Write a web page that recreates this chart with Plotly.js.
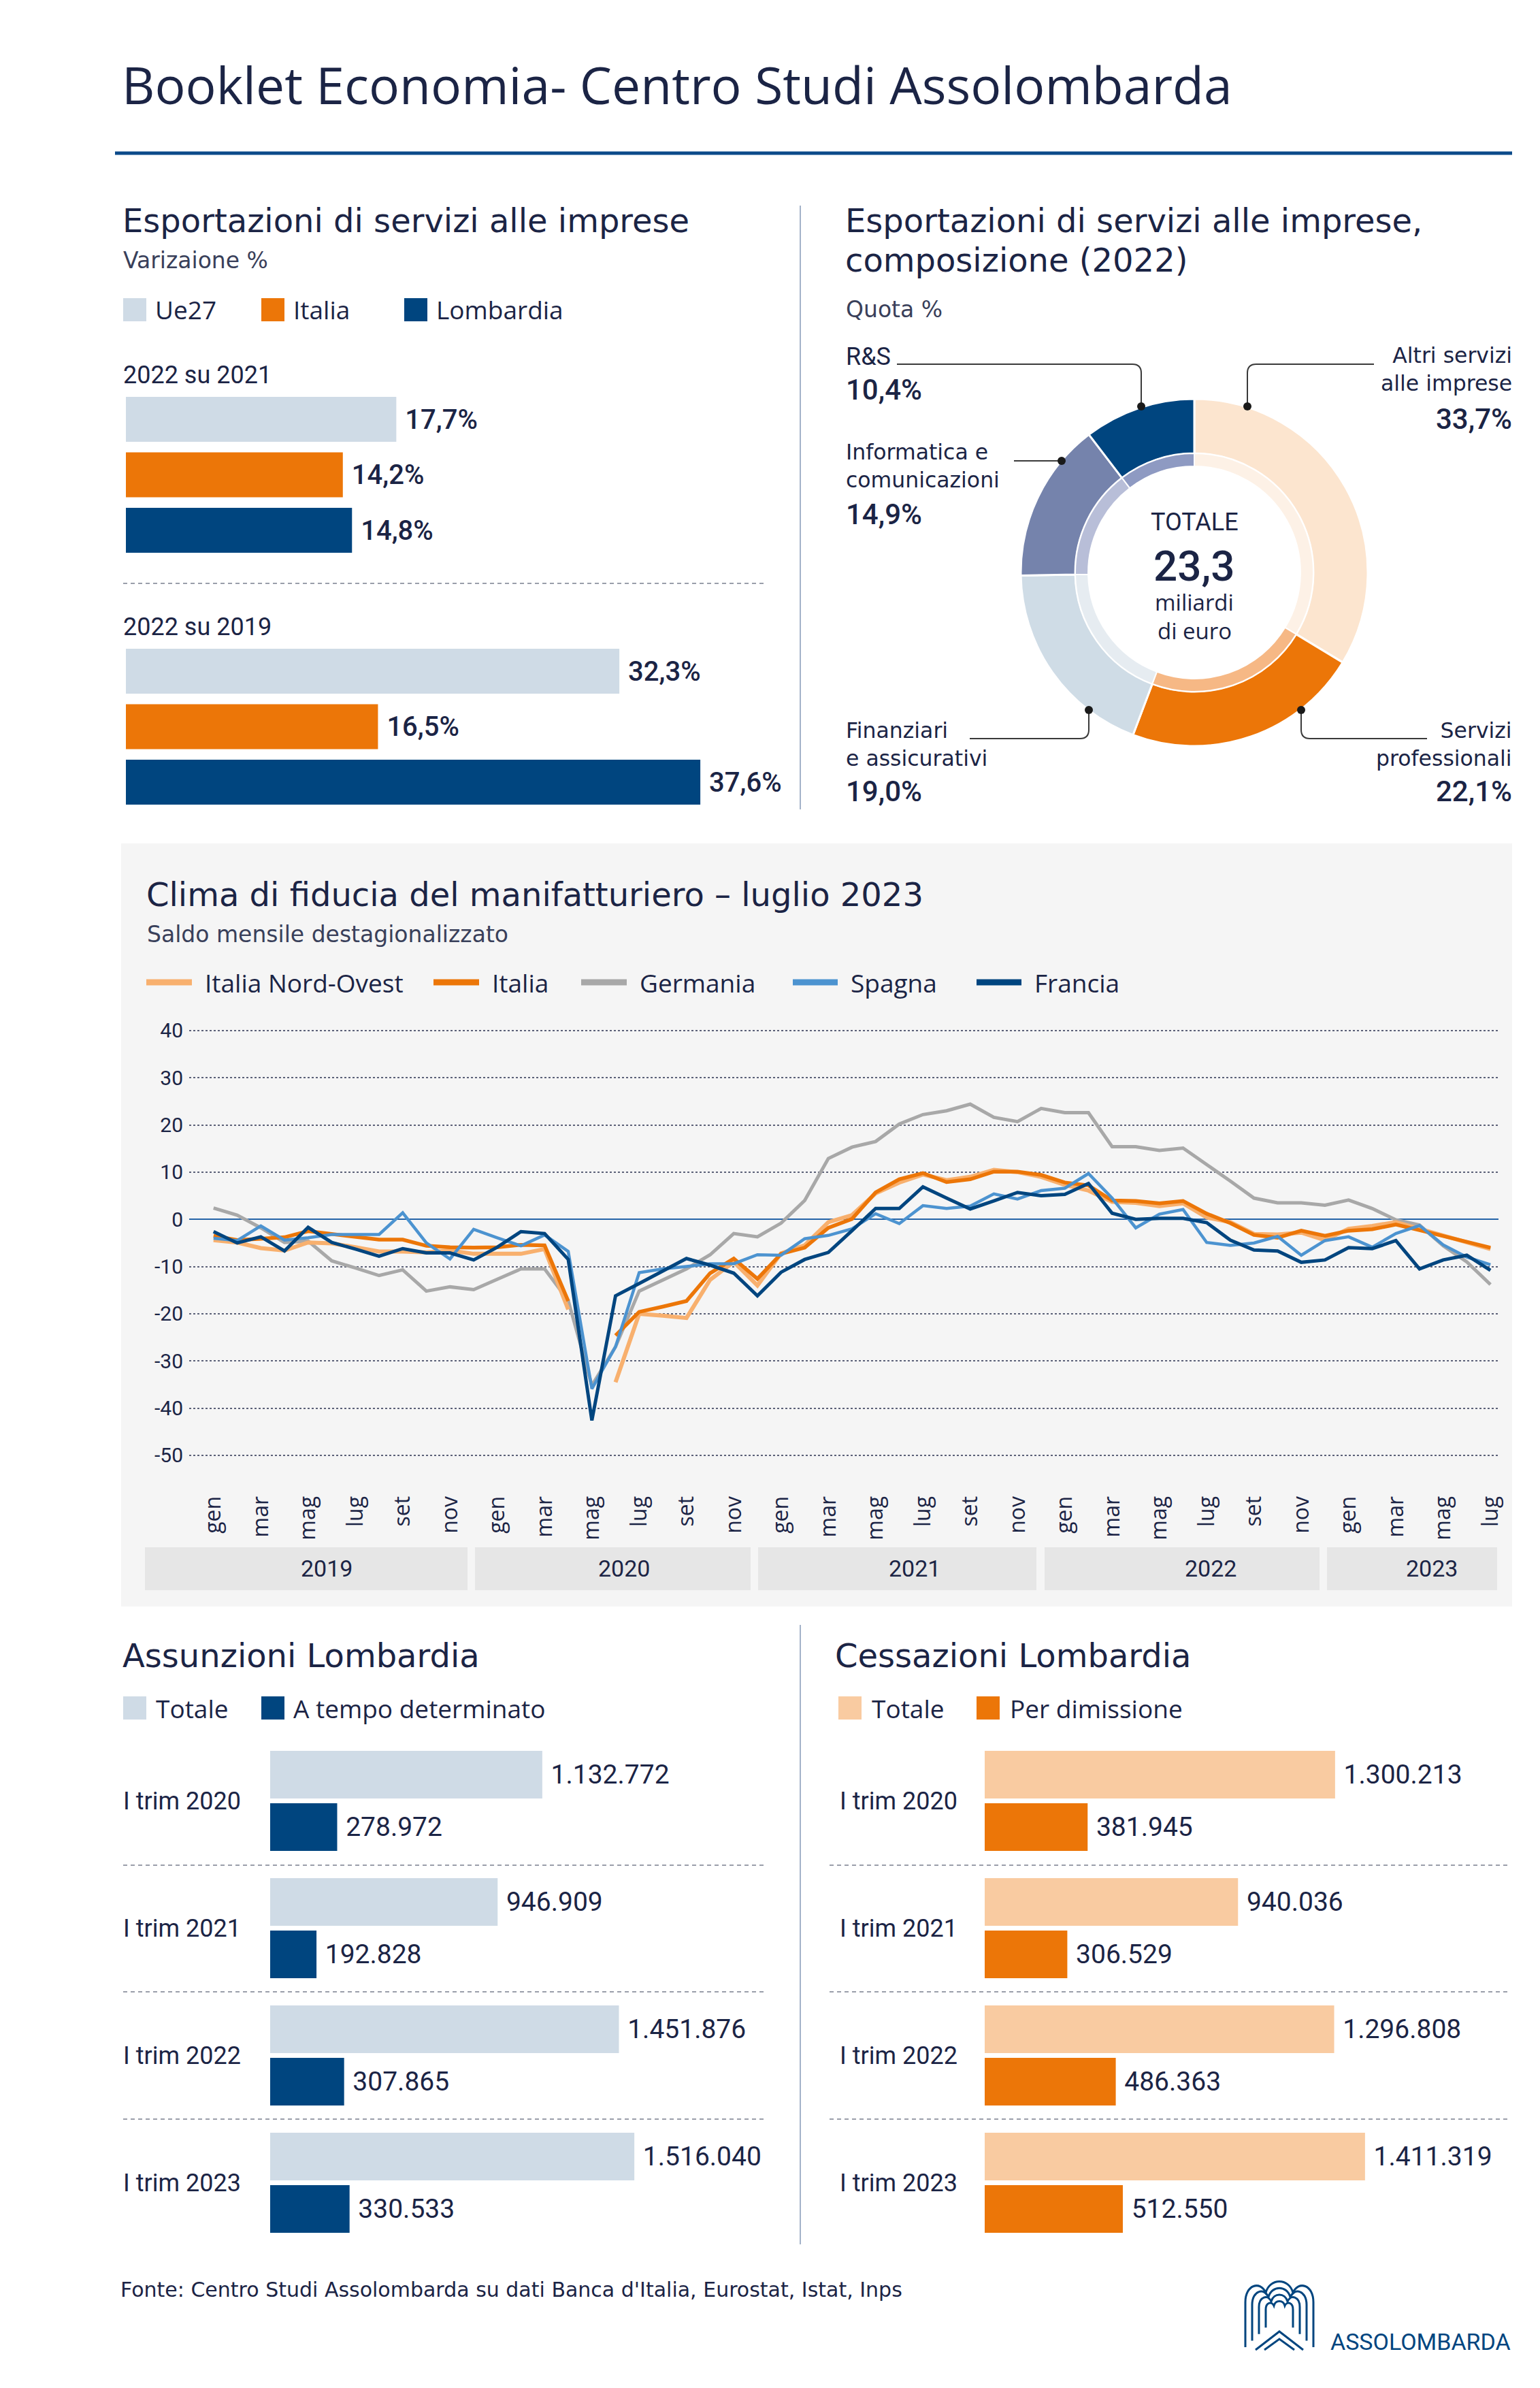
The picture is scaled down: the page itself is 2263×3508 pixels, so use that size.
<!DOCTYPE html>
<html><head><meta charset="utf-8">
<script src="https://cdn.plot.ly/plotly-3.0.1.min.js"></script>
<style>html,body{margin:0;padding:0;background:#fff}#chart{width:2263px;height:3508px}</style>
</head><body><div id="chart"></div>
<script>
// ================= DATA =================
const exportSeries = ['Ue27', 'Italia', 'Lombardia'];
const exportPeriods = ['2022 su 2021', '2022 su 2019'];
const exportUe27 = [17.7, 32.3];
const exportItalia = [14.2, 16.5];
const exportLombardia = [14.8, 37.6];

const compLabels = ['Altri servizi alle imprese', 'Servizi professionali', 'Finanziari e assicurativi', 'Informatica e comunicazioni', 'R&S'];
const compLabelLines = [['Altri servizi', 'alle imprese'], ['Servizi', 'professionali'], ['Finanziari', 'e assicurativi'], ['Informatica e', 'comunicazioni'], ['R&S']];
const compShares = [33.7, 22.1, 19.0, 14.9, 10.4];
const compTotal = 23.3;

const monthNames = ['gen','feb','mar','apr','mag','giu','lug','ago','set','ott','nov','dic'];
const years = [2019, 2020, 2021, 2022, 2023];
const lineSeriesNames = ['Italia Nord-Ovest', 'Italia', 'Germania', 'Spagna', 'Francia'];
const italiaNO = [-4.4,-4.9,-6.1,-6.6,-4.9,-5.1,-5.9,-6.8,-6.8,-7.0,-6.6,-7.3,-7.3,-7.3,-6.3,-19.1,null,-34.5,-20.0,-20.4,-20.9,-12.8,-9.0,-14.0,-7.2,-5.5,-0.6,0.9,5.5,7.8,9.5,8.3,9.0,10.5,10.0,9.0,7.3,6.1,3.7,3.5,2.8,3.4,0.4,-0.6,-3.1,-3.2,-2.8,-4.4,-2.0,-1.4,-0.6,-2.0,-3.5,-4.9,-6.3];
const italia = [-3.5,-4.4,-4.1,-3.8,-2.5,-3.1,-3.7,-4.3,-4.3,-5.6,-5.9,-6.0,-5.9,-5.4,-5.5,-17.3,null,-24.6,-19.6,-18.5,-17.3,-11.4,-8.3,-12.6,-7.3,-6.0,-1.8,0.1,5.7,8.5,9.8,7.9,8.5,10.1,10.1,9.4,7.8,7.2,4.0,3.9,3.4,3.9,1.2,-0.8,-3.3,-3.9,-2.4,-3.5,-2.4,-2.1,-1.1,-2.3,-3.5,-4.8,-6.0];
const germania = [2.4,0.9,-1.8,-4.9,-4.6,-8.8,-10.3,-11.9,-10.7,-15.2,-14.3,-14.9,-12.7,-10.5,-10.5,-17.2,-35.2,-27.0,-15.2,-12.8,-10.5,-7.5,-3.0,-3.7,-0.8,4.0,12.9,15.3,16.5,20.2,22.2,23.0,24.4,21.6,20.7,23.5,22.6,22.6,15.4,15.4,14.6,15.1,11.7,8.1,4.5,3.5,3.5,3.0,4.1,2.3,-0.1,-1.2,-5.6,-9.0,-13.8];
const spagna = [-4.0,-4.5,-1.4,-4.4,-3.9,-3.2,-3.2,-3.2,1.4,-5.0,-8.4,-2.1,-3.9,-5.6,-3.3,-6.8,-35.9,-27.0,-11.3,-10.5,-10.0,-9.4,-9.4,-7.5,-7.6,-4.1,-3.4,-2.0,1.2,-0.9,2.9,2.3,2.8,5.4,4.3,6.1,6.6,9.7,4.5,-1.8,1.1,2.1,-4.9,-5.5,-5.0,-3.6,-7.6,-4.5,-3.7,-5.9,-3.0,-1.3,-5.4,-8.0,-9.6];
const francia = [-2.6,-5.0,-3.7,-6.7,-1.7,-4.9,-6.3,-7.8,-6.2,-7.1,-7.1,-8.6,-5.9,-2.6,-3.0,-8.5,-42.6,-16.2,-13.6,-10.9,-8.3,-9.7,-11.4,-16.2,-11.2,-8.5,-7.0,-2.4,2.3,2.3,6.9,4.5,2.2,3.9,5.7,5.0,5.3,7.6,1.3,0.0,0.2,0.2,-0.7,-4.4,-6.5,-6.7,-9.1,-8.6,-6.0,-6.2,-4.5,-10.5,-8.6,-7.6,-10.8];
const yTicks = [40, 30, 20, 10, 0, -10, -20, -30, -40, -50];

const trimestri = ['I trim 2020', 'I trim 2021', 'I trim 2022', 'I trim 2023'];
const assunzioniTotale = [1132772, 946909, 1451876, 1516040];
const assunzioniDeterminato = [278972, 192828, 307865, 330533];
const cessazioniTotale = [1300213, 940036, 1296808, 1411319];
const cessazioniDimissione = [381945, 306529, 486363, 512550];

// ================= HELPERS =================
const W = 2263, H = 3508;
const px = x => x / W, py = y => 1 - y / H;
const NAVY = '#1b2445';
const FO = 'Open Sans, Lato, sans-serif';
const FD = 'DejaVu Sans, Open Sans, sans-serif';
const FR = 'Roboto, Liberation Sans, sans-serif';
const pct = v => v.toFixed(1).replace('.', ',') + '%';
const thou = v => String(v).replace(/\B(?=(\d{3})+(?!\d))/g, '.');
const NB = '\u00a0';

function T(text, x, y, size, o = {}) {
  return { text, x: px(x), y: py(y), xref: 'paper', yref: 'paper', xanchor: o.anchor || 'left', yanchor: 'middle',
    align: o.anchor === 'right' ? 'right' : (o.anchor === 'center' ? 'center' : 'left'),
    showarrow: false, font: { family: o.family || FO, size, color: o.color || NAVY, weight: o.weight || 400 } };
}
function rect(x0, y0, x1, y1, fill, layer = 'above') {
  return { type: 'rect', xref: 'paper', yref: 'paper', x0: px(x0), x1: px(x1), y0: py(y1), y1: py(y0), fillcolor: fill, line: { width: 0 }, layer };
}
function seg(x0, y0, x1, y1, color, width, dash = 'solid', layer = 'above') {
  return { type: 'line', xref: 'paper', yref: 'paper', x0: px(x0), x1: px(x1), y0: py(y0), y1: py(y1), line: { color, width, dash }, layer };
}
function circ(cx, cy, r, fill) {
  return { type: 'circle', xref: 'paper', yref: 'paper', x0: px(cx - r), x1: px(cx + r), y0: py(cy + r), y1: py(cy - r), fillcolor: fill, line: { width: 0 } };
}
function pathPx(arr, color, width) {
  let d = '', i = 0;
  while (i < arr.length) {
    if (typeof arr[i] === 'string') { d += arr[i] + ' '; i++; }
    else { d += px(arr[i]).toFixed(6) + ',' + py(arr[i + 1]).toFixed(6) + ' '; i += 2; }
  }
  return { type: 'path', xref: 'paper', yref: 'paper', path: d.trim(), line: { color, width }, fillcolor: 'rgba(0,0,0,0)' };
}

const traces = [];
const annotations = [];
const shapes = [];

// ================= HEADER =================
annotations.push(T('Booklet Economia- Centro Studi Assolombarda', 177, 124, 75));
shapes.push(seg(169, 225, 2222, 225, '#0b4a8a', 5));

// ================= TOP LEFT: export bars =================
const expColors = ['#cfdbe6', '#ec7608', '#00457f'];
const expVals = [exportUe27, exportItalia, exportLombardia];
const expOffsets = [-0.30946, -0.08919, 0.13108];
expVals.forEach((vals, i) => {
  traces.push({ type: 'bar', orientation: 'h', x: vals, y: exportPeriods, xaxis: 'x', yaxis: 'y',
    marker: { color: expColors[i], line: { width: 0 } }, width: 0.17838, offset: expOffsets[i],
    text: vals.map(v => NB + pct(v)), textposition: 'outside', cliponaxis: false, constraintext: 'none',
    outsidetextfont: { family: FR, size: 40, color: NAVY, weight: 500 }, hoverinfo: 'skip', name: exportSeries[i] });
});
annotations.push(T('Esportazioni di servizi alle imprese', 178, 324, 48, { family: FD }));
annotations.push(T('Varizaione %', 179, 382, 33, { family: FD, color: '#39405a' }));
const expLegX = [181, 384, 594];
exportSeries.forEach((s, i) => {
  shapes.push(rect(expLegX[i], 438, expLegX[i] + 34, 472, expColors[i]));
  annotations.push(T(s, expLegX[i] + 45, 455, 37));
});
annotations.push(T(exportPeriods[0], 179, 551, 36, { family: FR }));
annotations.push(T(exportPeriods[1], 179, 921, 36, { family: FR }));
shapes.push(seg(181, 857, 1127, 857, '#7a7f8f', 1.5, '6px,5px'));
shapes.push(seg(1176, 302, 1176, 1189, '#a3b3c9', 2));

// ================= TOP RIGHT: donut =================
const compOuter = ['#fce5cf', '#ec7608', '#cfdce6', '#7583ac', '#00457f'];
const compInner = ['#fdf1e6', '#f6b885', '#e6ecf1', '#b8bed8', '#8e9ac2'];
traces.push({ type: 'pie', values: compShares, labels: compLabels, sort: false, direction: 'clockwise', rotation: 0,
  hole: 0.686, domain: { x: [px(1500), px(2010)], y: [py(1096), py(586)] },
  marker: { colors: compOuter, line: { color: '#ffffff', width: 3 } }, textinfo: 'none', hoverinfo: 'skip', showlegend: false });
traces.push({ type: 'pie', values: compShares, labels: compLabels, sort: false, direction: 'clockwise', rotation: 0,
  hole: 0.891, domain: { x: [px(1580), px(1930)], y: [py(1016), py(666)] },
  marker: { colors: compInner, line: { color: '#ffffff', width: 2 } }, textinfo: 'none', hoverinfo: 'skip', showlegend: false });
annotations.push(T('Esportazioni di servizi alle imprese,', 1240, 324, 48, { family: FD }));
annotations.push(T('composizione (2022)', 1240, 382, 48, { family: FD }));
annotations.push(T('Quota %', 1241, 454, 33, { family: FD, color: '#39405a' }));
// label placements (layout only)
const compPlace = [
  { side: 'right', y: 542, p: 616 },
  { side: 'right', y: 1093, p: 1162 },
  { side: 'left', y: 1093, p: 1162 },
  { side: 'left', y: 685, p: 755 },
  { side: 'left', y: 524, p: 573 }
];
compShares.forEach((v, i) => {
  const pl = compPlace[i];
  const x = pl.side === 'left' ? 1241 : 2224;
  const anc = pl.side === 'left' ? 'left' : 'right';
  const isRS = compLabelLines[i].length === 1;
  annotations.push(T(compLabelLines[i].join('<br>'), x, pl.y, isRS ? 36 : 31.5, { anchor: anc, family: isRS ? FR : FD }));
  annotations.push(T(pct(v), x, pl.p, 42, { anchor: anc, family: FR, weight: 500 }));
});
annotations.push(T('TOTALE', 1755, 767, 36, { anchor: 'center', family: FR }));
annotations.push(T(compTotal.toFixed(1).replace('.', ','), 1755, 832, 62, { anchor: 'center', family: FR, weight: 500 }));
annotations.push(T('miliardi', 1755, 884, 33, { anchor: 'center' }));
annotations.push(T('di euro', 1755, 926, 33, { anchor: 'center' }));
const LC = '#3a3a3a';
shapes.push(pathPx(['M', 1318, 535, 'L', 1664, 535, 'Q', 1677, 535, 1677, 548, 'L', 1677, 597], LC, 2));
shapes.push(pathPx(['M', 2019, 535, 'L', 1846, 535, 'Q', 1833, 535, 1833, 548, 'L', 1833, 597], LC, 2));
shapes.push(pathPx(['M', 1490, 677, 'L', 1560, 677], LC, 2));
shapes.push(pathPx(['M', 1425, 1085, 'L', 1587, 1085, 'Q', 1600, 1085, 1600, 1072, 'L', 1600, 1043], LC, 2));
shapes.push(pathPx(['M', 2097, 1085, 'L', 1925, 1085, 'Q', 1912, 1085, 1912, 1072, 'L', 1912, 1043], LC, 2));
[[1677, 597], [1833, 597], [1560, 677], [1600, 1043], [1912, 1043]].forEach(p => shapes.push(circ(p[0], p[1], 6, '#1a1a1a')));

// ================= MIDDLE: line chart =================
shapes.push(rect(178, 1239, 2222, 2360, '#f5f5f5', 'below'));
const bandX = [[213, 687], [698, 1103], [1114, 1523], [1535, 1939], [1950, 2200]];
const yearLabelX = [480, 917, 1344, 1779, 2104];
years.forEach((yr, i) => {
  shapes.push(rect(bandX[i][0], 2273, bandX[i][1], 2336, '#e6e6e6', 'below'));
  annotations.push(T(String(yr), yearLabelX[i], 2304, 34, { anchor: 'center', family: FR }));
});
annotations.push(T('Clima di fiducia del manifatturiero – luglio 2023', 213, 1314, 48, { family: FD }));
annotations.push(T('Saldo mensile destagionalizzato', 214, 1372, 33, { family: FD, color: '#39405a' }));
const lineColors = ['#f8b06e', '#ec7608', '#a8a8a8', '#4c93d0', '#00457f'];
const lineWidths = [6, 5.5, 5, 4.5, 5];
const lineData = [italiaNO, italia, germania, spagna, francia];
const legLineX = [[215, 282], [637, 704], [854, 921], [1165, 1231], [1435, 1501]];
lineSeriesNames.forEach((nm, i) => {
  shapes.push(seg(legLineX[i][0], 1443, legLineX[i][1], 1443, lineColors[i], 9));
  annotations.push(T(nm, legLineX[i][1] + 17, 1443, 37));
});
const monthIdx = italia.map((_, i) => i);
const tickIdx = monthIdx.filter(i => i % 2 === 0);
const drawOrder = [2, 0, 1, 3, 4];
drawOrder.forEach(i => {
  traces.push({ type: 'scatter', mode: 'lines', x: monthIdx, y: lineData[i], xaxis: 'x2', yaxis: 'y2',
    line: { color: lineColors[i], width: lineWidths[i] }, connectgaps: false, hoverinfo: 'skip', name: lineSeriesNames[i], showlegend: false });
});

// ================= BOTTOM: Assunzioni / Cessazioni =================
function bottomChart(xa, ya, totals, parts, cTot, cPart, xLab) {
  [[totals, cTot, -0.39305], [parts, cPart, 0.01872]].forEach(([vals, col, off]) => {
    traces.push({ type: 'bar', orientation: 'h', x: vals, y: trimestri, xaxis: xa, yaxis: ya,
      marker: { color: col, line: { width: 0 } }, width: 0.37433, offset: off,
      text: vals.map(v => NB + thou(v)), textposition: 'outside', cliponaxis: false, constraintext: 'none',
      outsidetextfont: { family: FR, size: 39, color: NAVY, weight: 400 }, hoverinfo: 'skip', showlegend: false });
  });
  trimestri.forEach((t, i) => {
    annotations.push({ text: t, x: px(xLab), y: i, xref: 'paper', yref: ya, xanchor: 'left', yanchor: 'middle',
      showarrow: false, font: { family: FR, size: 36, color: NAVY } });
  });
}
bottomChart('x3', 'y3', assunzioniTotale, assunzioniDeterminato, '#cfdbe6', '#00457f', 179);
bottomChart('x4', 'y4', cessazioniTotale, cessazioniDimissione, '#f9cba1', '#ec7608', 1232);
annotations.push(T('Assunzioni Lombardia', 178, 2432, 48, { family: FD }));
annotations.push(T('Cessazioni Lombardia', 1225, 2432, 48, { family: FD }));
shapes.push(rect(181, 2492, 215, 2526, '#cfdbe6'));
shapes.push(rect(384, 2492, 418, 2526, '#00457f'));
annotations.push(T('Totale', 227, 2509, 37));
annotations.push(T('A tempo determinato', 429, 2509, 37));
shapes.push(rect(1232, 2492, 1266, 2526, '#f9cba1'));
shapes.push(rect(1435, 2492, 1469, 2526, '#ec7608'));
annotations.push(T('Totale', 1279, 2509, 37));
annotations.push(T('Per dimissione', 1482, 2509, 37));
[2740, 2926, 3113].forEach(y => {
  shapes.push(seg(181, y, 1127, y, '#7a7f8f', 1.5, '6px,5px'));
  shapes.push(seg(1219, y, 2216, y, '#7a7f8f', 1.5, '6px,5px'));
});
shapes.push(seg(1176, 2387, 1176, 3297, '#a3b3c9', 2));

// ================= FOOTER =================
annotations.push(T("Fonte: Centro Studi Assolombarda su dati Banca d'Italia, Eurostat, Istat, Inps", 175, 3363, 30, { family: FD }));
annotations.push(T('ASSOLOMBARDA', 1953, 3440, 34, { family: FR, color: '#00457f' }));
// logo emblem (decorative)
function logoPath(s, cx, cy) {
  const pts = [['M', -50, 48], ['L', -50, -18], ['C', -50, -44, -28, -50, -20, -32], ['C', -14, -54, 14, -54, 20, -32], ['C', 28, -50, 50, -44, 50, -18], ['L', 50, 48]];
  const arr = [];
  pts.forEach(p => { arr.push(p[0]); for (let k = 1; k < p.length; k += 2) { arr.push(cx + p[k] * s, cy + p[k + 1] * s); } });
  return arr;
}
[1, 0.8, 0.6, 0.4].forEach(s => shapes.push(pathPx(logoPath(s, 1880, 3400), '#00457f', 3)));
shapes.push(pathPx(['M', 1845, 3452, 'L', 1880, 3425, 'L', 1915, 3452], '#00457f', 3));
shapes.push(pathPx(['M', 1858, 3452, 'L', 1880, 3436, 'L', 1902, 3452], '#00457f', 3));

// ================= LAYOUT =================
const hid = { visible: false, fixedrange: true };
const layout = {
  width: W, height: H, margin: { l: 0, r: 0, t: 0, b: 0 }, paper_bgcolor: '#ffffff', plot_bgcolor: 'rgba(0,0,0,0)',
  showlegend: false, barmode: 'overlay',
  font: { family: FO, color: NAVY },
  xaxis: Object.assign({ domain: [px(185), px(185 + 22.45 * 50)], range: [0, 50], anchor: 'y' }, hid),
  yaxis: Object.assign({ domain: [py(1252.5), py(512.5)], type: 'category', range: [1.5, -0.5], anchor: 'x' }, hid),
  xaxis2: { domain: [px(278), px(2202)], range: [-1.03, 54.34], anchor: 'y2', tickmode: 'array', tickvals: tickIdx,
    ticktext: tickIdx.map(i => monthNames[i % 12]), tickangle: -90, tickfont: { family: FO, size: 32, color: NAVY },
    showgrid: false, zeroline: false, showline: false, ticks: '', ticklabelstandoff: 4, fixedrange: true },
  yaxis2: { domain: [py(2186.5), py(1500)], range: [-57, 42], anchor: 'x2', tickmode: 'array', tickvals: yTicks,
    ticktext: yTicks.map(v => String(v)),
    tickfont: { family: FR, size: 30, color: NAVY }, showgrid: true, gridcolor: '#5c6178', gridwidth: 2, griddash: 'dot',
    zeroline: true, zerolinecolor: '#2464a8', zerolinewidth: 2, showline: false, ticks: '', ticklabelstandoff: 8, fixedrange: true },
  xaxis3: Object.assign({ domain: [px(397), px(397 + 353 * 2.2)], range: [0, 2.2e6], anchor: 'y3' }, hid),
  yaxis3: Object.assign({ domain: [py(3300), py(2552)], type: 'category', range: [3.5, -0.5], anchor: 'x3' }, hid),
  xaxis4: Object.assign({ domain: [px(1447), px(1447 + 396 * 2)], range: [0, 2e6], anchor: 'y4' }, hid),
  yaxis4: Object.assign({ domain: [py(3300), py(2552)], type: 'category', range: [3.5, -0.5], anchor: 'x4' }, hid),
  annotations, shapes
};
Plotly.newPlot('chart', traces, layout, { staticPlot: true, displayModeBar: false });
</script></body></html>
